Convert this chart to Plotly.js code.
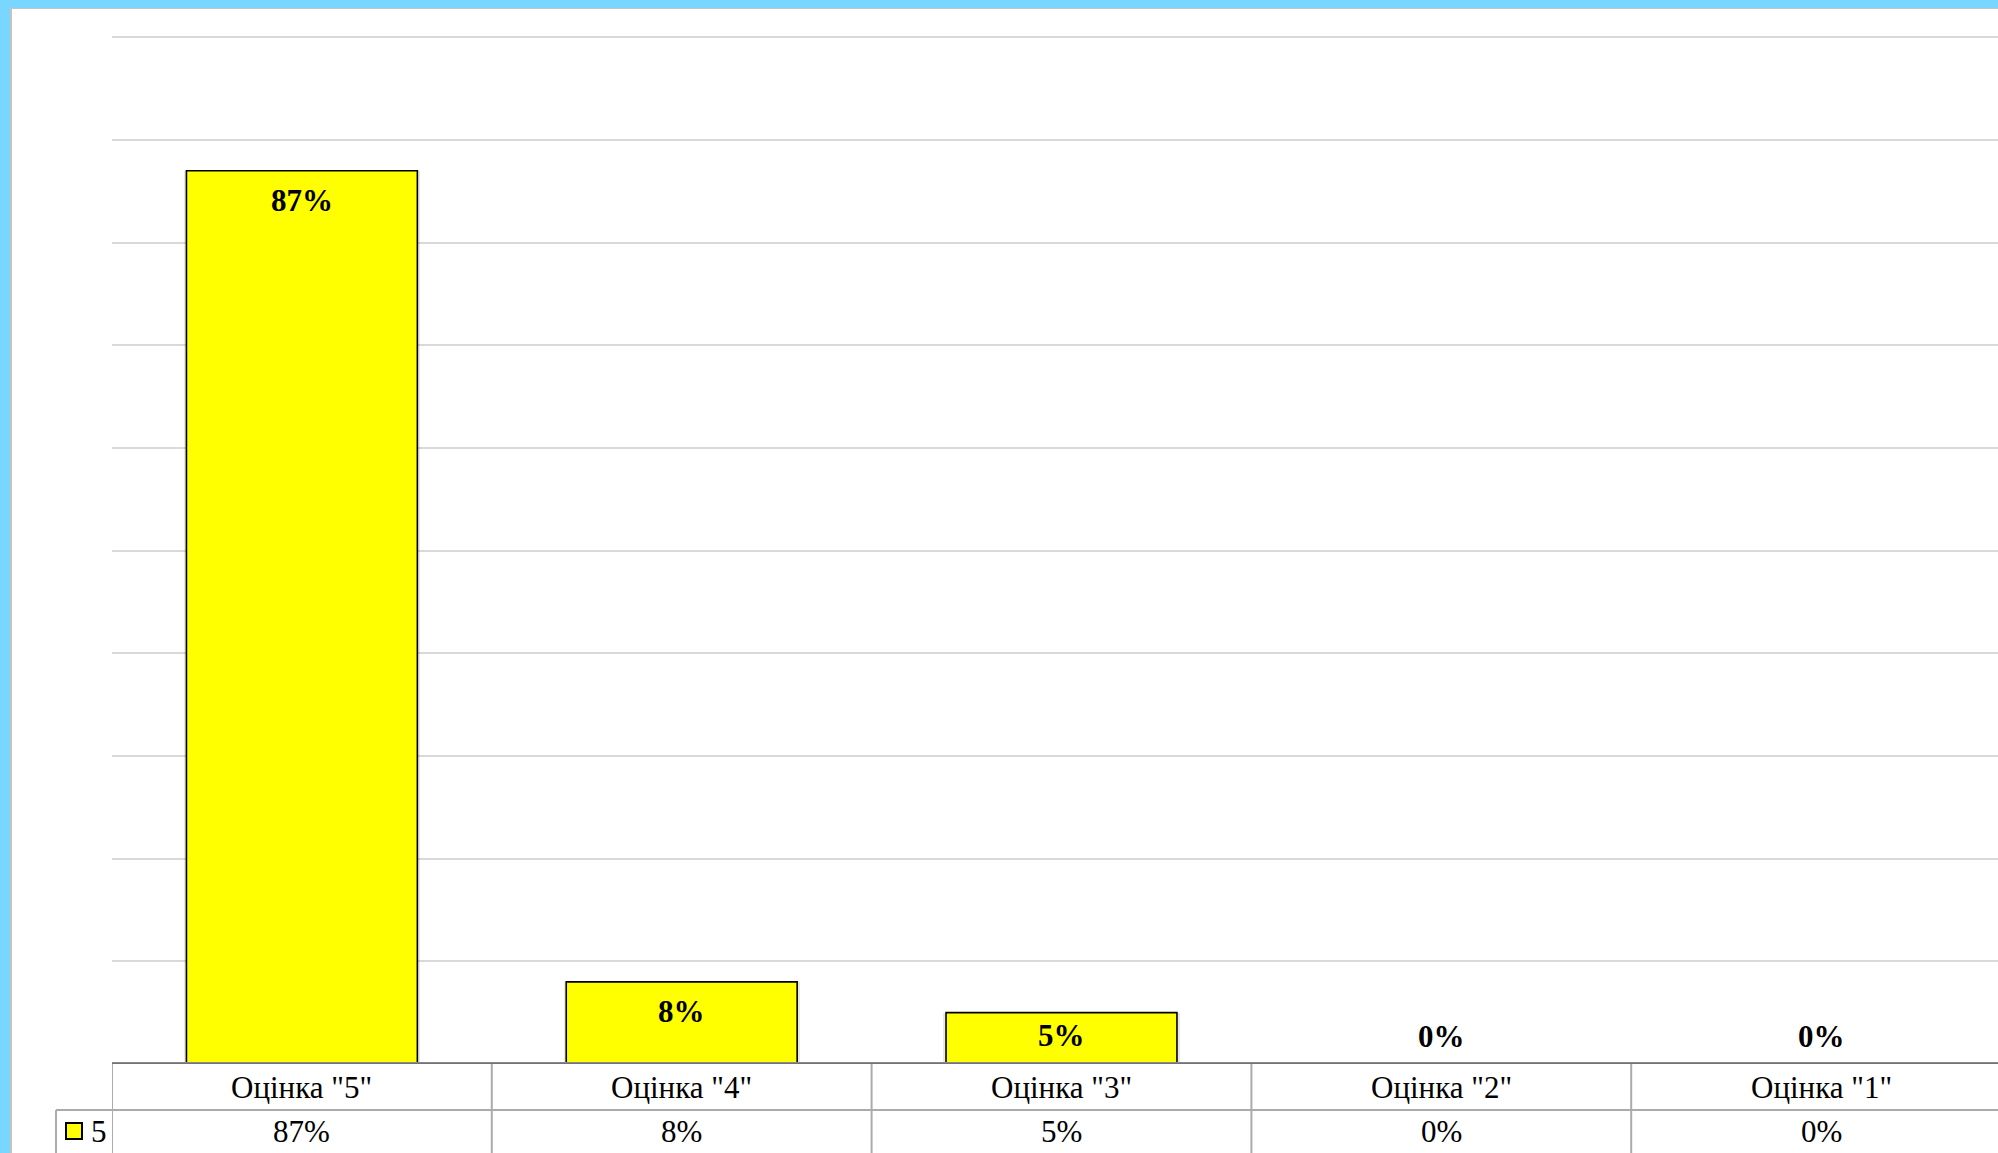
<!DOCTYPE html>
<html><head><meta charset="utf-8">
<script src="https://cdn.plot.ly/plotly-3.0.1.min.js"></script>
<style>
html,body{margin:0;padding:0;background:#78d6ff;width:1998px;height:1153px;overflow:hidden;}
#frame{position:absolute;left:10px;top:8px;width:1988px;height:1145px;background:#fff;border-left:2px solid #c4c4c4;border-top:1px solid #c4c4c4;box-sizing:border-box;}
#chart{position:absolute;left:12px;top:9px;width:1986px;height:1144px;}
</style></head><body>
<div id="frame"></div><div id="chart"></div>
<script>
const categories = ['Оцінка "5"', 'Оцінка "4"', 'Оцінка "3"', 'Оцінка "2"', 'Оцінка "1"'];
const values = [87, 8, 5, 0, 0];
const valueLabels = ['87%', '8%', '5%', '0%', '0%'];
const seriesName = '5';

const W = 1986, H = 1144;
const M = {l: 100, r: 0, t: 18, b: 89, pad: 0, autoexpand: false};
const plotW = W - M.l - M.r, plotH = H - M.t - M.b;
const yRange = [0, 101];
const pxPerUnit = plotH / (yRange[1] - yRange[0]);
const serif = 'Liberation Serif, Times New Roman, serif';
const barColor = '#ffff00', barLine = '#000000';

const shadow = {
  type: 'bar', x: categories, y: values, width: 0.622,
  marker: {color: 'rgba(0,0,0,0.09)', line: {width: 0}},
  showlegend: false, hoverinfo: 'skip'
};
const bars = {
  type: 'bar', name: seriesName, x: categories, y: values, width: 0.608,
  marker: {color: barColor, line: {color: barLine, width: 1.6}},
  showlegend: false, hoverinfo: 'x+y'
};

const annotations = [];
values.forEach((v, i) => {
  const barPx = v * pxPerUnit;
  const off = Math.min(30, barPx - 28);
  annotations.push({x: categories[i], y: v, xref: 'x', yref: 'y', text: '<b>' + valueLabels[i] + '</b>',
    showarrow: false, yanchor: 'middle', xanchor: 'center', yshift: -off,
    font: {family: serif, size: 31, color: '#000'}});
  annotations.push({x: categories[i], y: 0, xref: 'x', yref: 'paper', text: categories[i],
    showarrow: false, yanchor: 'middle', xanchor: 'center', yshift: -23,
    font: {family: serif, size: 31, color: '#000'}});
  annotations.push({x: categories[i], y: 0, xref: 'x', yref: 'paper', text: valueLabels[i],
    showarrow: false, yanchor: 'middle', xanchor: 'center', yshift: -67,
    font: {family: serif, size: 31, color: '#000'}});
});
// legend entry (series name) inside the data-table row header
annotations.push({x: (77 - M.l) / plotW, y: 0, xref: 'paper', yref: 'paper', text: seriesName,
  showarrow: false, xanchor: 'left', yanchor: 'middle', yshift: -67,
  font: {family: serif, size: 31, color: '#000'}});

const gridC = '#ababab';
const rowSep = -46 / plotH, bottom = -89 / plotH;
const legLeft = (44 - M.l) / plotW;
const shapes = [];
for (let i = 0; i <= categories.length; i++) {
  shapes.push({type: 'line', xref: 'x', yref: 'paper', x0: i - 0.5, x1: i - 0.5, y0: 0, y1: bottom,
    line: {color: gridC, width: 2}, layer: 'above'});
}
shapes.push({type: 'line', xref: 'paper', yref: 'paper', x0: legLeft, x1: 1, y0: rowSep, y1: rowSep,
  line: {color: gridC, width: 2}, layer: 'above'});
shapes.push({type: 'line', xref: 'paper', yref: 'paper', x0: legLeft, x1: legLeft, y0: rowSep, y1: bottom,
  line: {color: gridC, width: 2}, layer: 'above'});
shapes.push({type: 'line', xref: 'paper', yref: 'y', x0: 0, x1: 1, y0: 0, y1: 0,
  line: {color: '#8a8a8a', width: 4}, layer: 'above'});
shapes.push({type: 'line', xref: 'paper', yref: 'y', x0: 0, x1: 1, y0: 0, y1: 0, yshift: 1,
  line: {color: '#6a6a6a', width: 1.5}, layer: 'above'});
// legend key square
shapes.push({type: 'rect', xref: 'paper', yref: 'paper',
  x0: (54 - M.l) / plotW, x1: (70 - M.l) / plotW, y0: -59 / plotH, y1: -75 / plotH,
  fillcolor: barColor, line: {color: barLine, width: 2}, layer: 'above'});

const layout = {
  width: W, height: H, margin: M,
  paper_bgcolor: 'rgba(0,0,0,0)', plot_bgcolor: '#ffffff',
  barmode: 'overlay', bargap: 0,
  font: {family: serif, size: 31, color: '#000'},
  xaxis: {type: 'category', range: [-0.5, -0.5 + plotW / 379.8], showgrid: false, showticklabels: false,
    zeroline: false, showline: false, ticks: '', fixedrange: true},
  yaxis: {range: yRange, dtick: 10, tick0: 0, showgrid: true, gridcolor: '#d9d9d9', gridwidth: 2,
    showticklabels: false, zeroline: false, showline: false, ticks: '', fixedrange: true},
  showlegend: false,
  annotations: annotations, shapes: shapes
};
Plotly.newPlot('chart', [shadow, bars], layout, {displayModeBar: false, staticPlot: true});
</script></body></html>
